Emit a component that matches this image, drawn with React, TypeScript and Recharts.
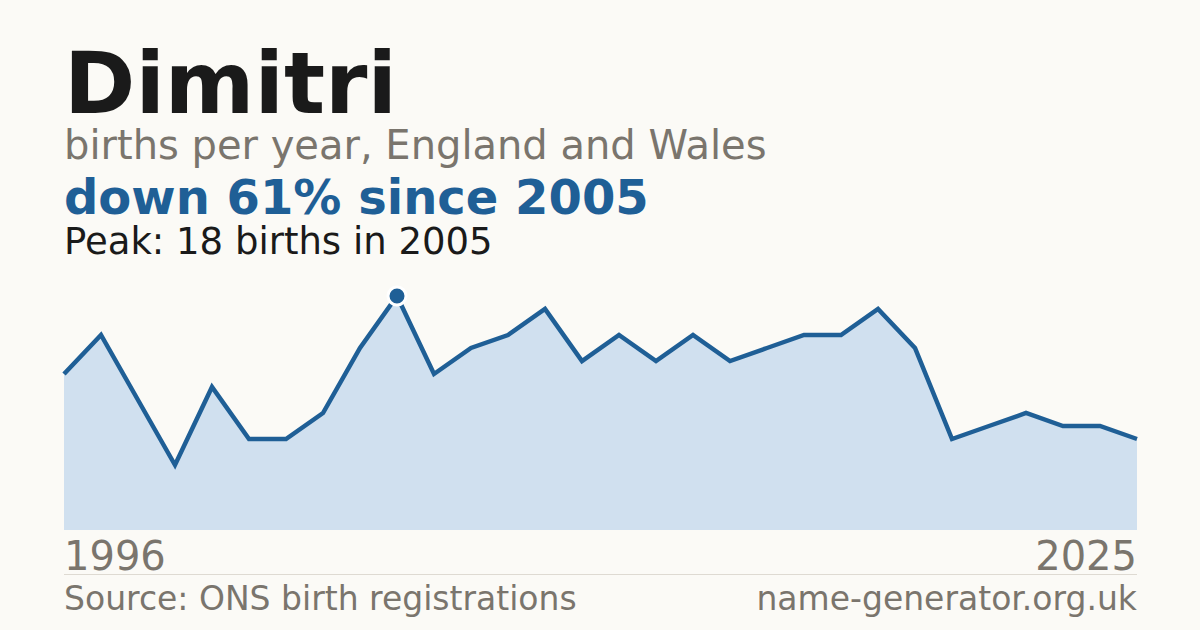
import React from 'react';
import { AreaChart, Area, XAxis, YAxis, ReferenceDot } from 'recharts';

const years = [
  1996, 1997, 1998, 1999, 2000, 2001, 2002, 2003, 2004, 2005,
  2006, 2007, 2008, 2009, 2010, 2011, 2012, 2013, 2014, 2015,
  2016, 2017, 2018, 2019, 2020, 2021, 2022, 2023, 2024, 2025,
];
const births = [
  12, 15, 10, 5, 11, 7, 7, 9, 14, 18,
  12, 14, 15, 17, 13, 15, 13, 15, 13, 14,
  15, 15, 17, 14, 7, 8, 9, 8, 8, 7,
];
const peakYear = 2005;
const peakValue = 18;

const data = years.map((year, i) => ({ year, births: births[i] }));

const font = '"DejaVu Sans", sans-serif';
const blue = '#1f5f96';
const grey = '#7a756d';

const App = () => {
  return (
    <div style={{ position: 'fixed', top: 0, left: 0, width: 1200, height: 630, background: '#fbfaf6', fontFamily: font }}>
      <div style={{ position: 'absolute', top: 0, left: 0 }}>
        <AreaChart width={1200} height={630} data={data} margin={{ top: 270, right: 63, bottom: 100, left: 64 }}>
          <XAxis dataKey="year" hide />
          <YAxis hide domain={[0, 20]} />
          <Area
            type="linear"
            dataKey="births"
            stroke={blue}
            strokeWidth={4.5}
            fill="#d0e0ef"
            fillOpacity={1}
            isAnimationActive={false}
          />
          <ReferenceDot x={peakYear} y={peakValue} r={9} fill={blue} stroke="#ffffff" strokeWidth={3} />
        </AreaChart>
      </div>
      <svg width={1200} height={630} style={{ position: 'absolute', top: 0, left: 0, pointerEvents: 'none' }}>
        <text x={64} y={113} fontFamily={font} fontWeight="bold" fontSize={86} fill="#1a1a1a">Dimitri</text>
        <text x={64} y={159} fontFamily={font} fontSize={40} fill={grey}>births per year, England and Wales</text>
        <text x={64} y={214} fontFamily={font} fontWeight="bold" fontSize={48} fill={blue}>down 61% since 2005</text>
        <text x={64} y={254} fontFamily={font} fontSize={37} fill="#1a1a1a">Peak: 18 births in 2005</text>
        <text x={64} y={570} fontFamily={font} fontSize={40} fill={grey}>1996</text>
        <text x={1137} y={570} fontFamily={font} fontSize={40} fill={grey} textAnchor="end">2025</text>
        <line x1={64} x2={1137} y1={574.5} y2={574.5} stroke="#dedad2" strokeWidth={1} />
        <text x={64} y={610} fontFamily={font} fontSize={33} fill={grey}>Source: ONS birth registrations</text>
        <text x={1137} y={610} fontFamily={font} fontSize={33} fill={grey} textAnchor="end">name-generator.org.uk</text>
      </svg>
    </div>
  );
};

export default App;
